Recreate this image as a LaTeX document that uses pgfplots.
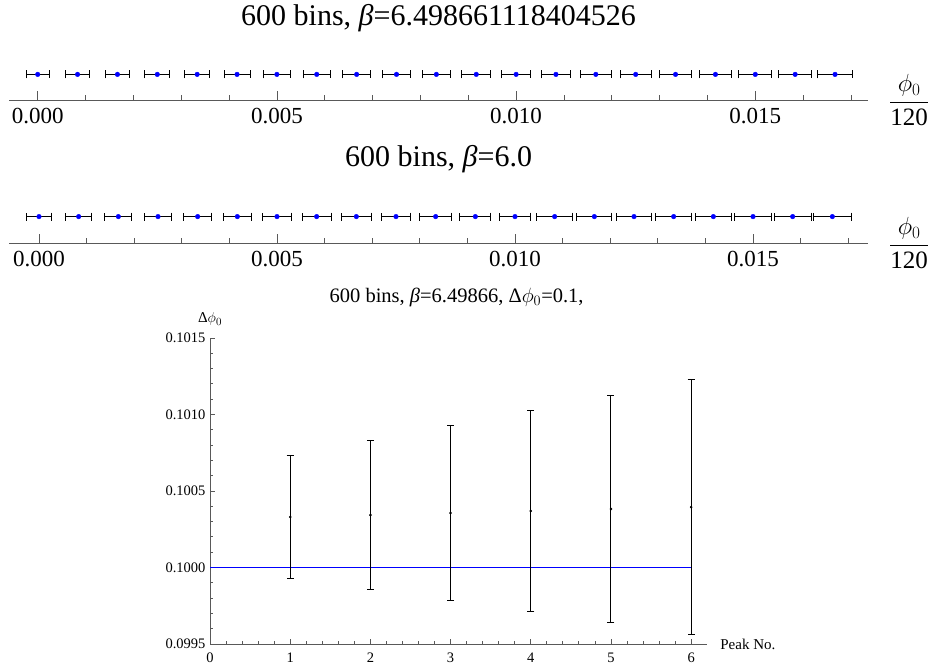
\documentclass[border=0pt]{standalone}
\usepackage{fontspec}
\setmainfont{Liberation Serif}
\usepackage{amsmath}
\usepackage{pgfplots}
\usepackage{pgfplotstable}
\pgfplotsset{compat=1.18}
\definecolor{mblue}{rgb}{0,0,1}

% peak positions (phi_0/120) and widths, beta = 6.4986611184
\pgfplotstableread{
x y ex
0        0.64 0.000240
0.000833 0.64 0.000248
0.001667 0.64 0.000253
0.0025   0.64 0.000259
0.003333 0.64 0.000265
0.004167 0.64 0.000271
0.005    0.64 0.000277
0.005833 0.64 0.000282
0.006667 0.64 0.000287
0.0075   0.64 0.000292
0.008333 0.64 0.000297
0.009167 0.64 0.000302
0.01     0.64 0.000307
0.010833 0.64 0.000312
0.011667 0.64 0.000318
0.0125   0.64 0.000323
0.013333 0.64 0.000329
0.014167 0.64 0.000335
0.015    0.64 0.000343
0.015833 0.64 0.000350
0.016667 0.64 0.000360
}\peaksA

% beta = 6.0
\pgfplotstableread{
x y ex
0        0.66 0.000270
0.000833 0.66 0.000277
0.001667 0.66 0.000281
0.0025   0.66 0.000286
0.003333 0.66 0.000288
0.004167 0.66 0.000293
0.005    0.66 0.000296
0.005833 0.66 0.000306
0.006667 0.66 0.000310
0.0075   0.66 0.000313
0.008333 0.66 0.000330
0.009167 0.66 0.000326
0.01     0.66 0.000330
0.010833 0.66 0.000382
0.011667 0.66 0.000370
0.0125   0.66 0.000378
0.013333 0.66 0.000382
0.014167 0.66 0.000385
0.015    0.66 0.000386
0.015833 0.66 0.000388
0.016667 0.66 0.000392
}\peaksB

% spacing between peaks
\pgfplotstableread{
x y ey
1 0.100330 0.000403
2 0.100343 0.000488
3 0.100356 0.000573
4 0.100369 0.000659
5 0.100382 0.000744
6 0.100395 0.000833
}\spacing

% reference level
\pgfplotstableread{
x y
0 0.1
6 0.1
}\reflevel

\pgfplotsset{
  numline/.style={
    anchor=south west, scale only axis, height=40bp,
    ymin=0, ymax=1, clip=false,
    axis x line*=bottom, axis y line=none,
    axis line style={black!65, line width=0.8bp},
    tick style={black!65, line width=0.8bp},
    tick align=inside, major tick length=9bp, minor tick length=5bp,
    scaled x ticks=false,
    xtick={0,0.005,0.01,0.015},
    minor xtick={0.001,0.002,0.003,0.004,0.006,0.007,0.008,0.009,0.011,0.012,0.013,0.014,0.016,0.017},
    xticklabel style={/pgf/number format/fixed, /pgf/number format/fixed zerofill,
      /pgf/number format/precision=3, /pgf/number format/assume math mode=true,
      font=\fontsize{23bp}{27bp}\selectfont, yshift=-5bp},
    xlabel={$\displaystyle\genfrac{}{}{1bp}{}{\phi_0}{\mbox{120}}$},
    xlabel style={at={(axis description cs:1,0)}, anchor=west, inner sep=0pt,
      xshift=21bp, font=\fontsize{25bp}{30bp}\selectfont},
    title style={at={(axis description cs:0.5,1)}, anchor=base, inner sep=0pt,
      font=\fontsize{30bp}{36bp}\selectfont},
  },
  peaks/.style={only marks, mark=*, mark size=2.3bp,
    mark options={draw=mblue, fill=mblue},
    error bars/.cd, x dir=both, x explicit,
    error bar style={black, line width=1bp},
    error mark options={rotate=90, black, mark size=4bp, line width=1bp}},
}

\begin{document}
\begin{tikzpicture}
\useasboundingbox (0bp,0bp) rectangle (933bp,671bp);

\begin{axis}[numline, at={(9bp,571bp)}, width=859bp,
  xmin=-0.0006, xmax=0.017356,
  title={600 bins, \textit{β}=6.498661118404526},
  title style={yshift=29bp}]
\addplot+[peaks] table[x=x, y=y, x error=ex] {\peaksA};
\end{axis}

\begin{axis}[numline, at={(9.3bp,428bp)}, width=858.7bp,
  xmin=-0.000624, xmax=0.017416,
  title={600 bins, \textit{β}=6.0},
  title style={yshift=30.3bp}]
\addplot+[peaks] table[x=x, y=y, x error=ex] {\peaksB};
\end{axis}

\begin{axis}[at={(210bp,27bp)}, anchor=south west, scale only axis,
  width=497.2bp, height=306bp,
  xmin=0, xmax=6.2, ymin=0.0995, ymax=0.1015, clip=false,
  axis x line*=bottom, axis y line*=left,
  axis line style={black!65, line width=0.8bp},
  tick style={black!65, line width=0.8bp},
  tick align=inside, major tick length=5bp, minor tick length=2.5bp,
  scaled ticks=false,
  xtick={0,1,2,3,4,5,6}, minor x tick num=4,
  ytick={0.0995,0.1,0.1005,0.101,0.1015}, minor y tick num=4,
  xticklabel style={/pgf/number format/assume math mode=true,
    font=\fontsize{14.5bp}{17bp}\selectfont, yshift=-5bp},
  yticklabel style={/pgf/number format/fixed, /pgf/number format/fixed zerofill,
    /pgf/number format/precision=4, /pgf/number format/assume math mode=true,
    font=\fontsize{14.5bp}{17bp}\selectfont, xshift=-1bp},
  xlabel={Peak No.},
  xlabel style={at={(axis description cs:1,0)}, anchor=west, inner sep=0pt,
    xshift=13bp, font=\fontsize{15bp}{18bp}\selectfont},
  ylabel={Δ$\phi_0$},
  ylabel style={at={(axis description cs:0,1)}, rotate=-90, anchor=base,
    inner sep=0pt, yshift=15bp, font=\fontsize{15bp}{18bp}\selectfont},
  title={600 bins, \textit{β}=6.49866, Δ$\phi_0$=0.1,},
  title style={at={(axis description cs:0.5,1)}, anchor=base, inner sep=0pt,
    yshift=29.3bp, xshift=-2bp, font=\fontsize{20.5bp}{24bp}\selectfont},
]
\addplot[draw=mblue, line width=1.5bp, mark=none] table[x=x, y=y] {\reflevel};
\addplot[black, only marks, mark=*, mark size=1.1bp,
  error bars/.cd, y dir=both, y explicit,
  error bar style={black, line width=1bp},
  error mark options={rotate=90, black, mark size=3.5bp, line width=1bp}]
  table[x=x, y=y, y error=ey] {\spacing};
\end{axis}
\end{tikzpicture}
\end{document}
